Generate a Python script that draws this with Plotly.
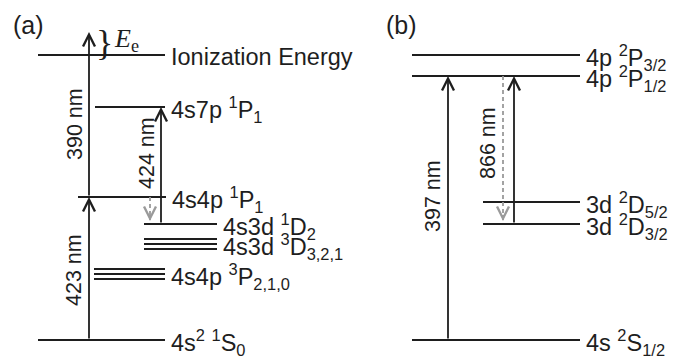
import plotly.graph_objects as go

# ---------------- data ----------------
# Panel (a): neutral Ca, schematic energies (arbitrary units above ground state)
ca_labels = ["4s<sup>2</sup> <sup>1</sup>S<sub>0</sub>",
             "4s4p <sup>3</sup>P<sub>2,1,0</sub>",
             "4s3d <sup>3</sup>D<sub>3,2,1</sub>",
             "4s3d <sup>1</sup>D<sub>2</sub>",
             "4s4p <sup>1</sup>P<sub>1</sub>",
             "4s7p <sup>1</sup>P<sub>1</sub>",
             "Ionization Energy"]
ca_energy = [0, 66, 96, 116, 143, 233, 285]
ca_split = [0, 5, 5, 0, 0, 0, 0]          # fine-structure spacing of triplets
ca_continuum = 308                        # top of E_e arrow
ca_wavelengths = ["423 nm", "390 nm", "424 nm"]
ca_exc_from = [0, 4, 3]                   # level indices
ca_exc_to = [4, "cont", 5]
ca_decay_from = [4]
ca_decay_to = [3]

# Panel (b): Ca+ ion
ion_labels = ["4s <sup>2</sup>S<sub>1/2</sub>",
              "3d <sup>2</sup>D<sub>3/2</sub>",
              "3d <sup>2</sup>D<sub>5/2</sub>",
              "4p <sup>2</sup>P<sub>1/2</sub>",
              "4p <sup>2</sup>P<sub>3/2</sub>"]
ion_energy = [0, 116, 138, 264, 285]
ion_wavelengths = ["397 nm", "866 nm"]
ion_exc_from = [0, 1]
ion_exc_to = [3, 3]
ion_decay_from = [3]
ion_decay_to = [1]

# ---------------- layout (horizontal placement) ----------------
ca_x = [(38, 165), (94, 165), (144, 217), (144, 217), (78, 166), (95, 165), (38, 165)]
ion_x = [(412, 580), (483, 580), (483, 580), (412, 580), (412, 580)]
ca_exc_x = [89, 89, 161]
ca_decay_x = [150]
ca_wl_pos = [(74, 70), (75, 216), (147, 187)]
ion_exc_x = [448, 514]
ion_decay_x = [503]
ion_wl_pos = [(433, 144), (488, 197)]

BLACK = "#1e1e1e"
GRAY = "#9a9a9a"
FONT = "Liberation Sans, Arial, sans-serif"
LSIZE = 23.5

fig = go.Figure()


def add_levels(energies, splits, xs, labels):
    xx, yy = [], []
    for e, s, (x0, x1) in zip(energies, splits, xs):
        subs = [e + s, e, e - s] if s else [e]
        for ev in subs:
            xx += [x0, x1, None]
            yy += [ev, ev, None]
    fig.add_trace(go.Scatter(x=xx, y=yy, mode="lines",
                             line=dict(color=BLACK, width=2),
                             hoverinfo="skip", showlegend=False))
    for e, (x0, x1), lab in zip(energies, xs, labels):
        fig.add_annotation(x=x1 + 4, y=e, text=lab, showarrow=False,
                           xanchor="left", yanchor="middle", yshift=-2,
                           font=dict(family=FONT, size=LSIZE, color=BLACK))


def arrow(x, e0, e1, color):
    fig.add_annotation(x=x, y=e1, ax=x, ay=e0, xref="x", yref="y",
                       axref="x", ayref="y", text="", showarrow=True,
                       arrowhead=5, arrowsize=1.3, arrowwidth=1.8,
                       arrowcolor=color, standoff=0)


def dashed_arrow(x, e0, e1):
    fig.add_trace(go.Scatter(x=[x, x], y=[e0, e1 + 4], mode="lines",
                             line=dict(color=GRAY, width=1.8, dash="4px,3px"),
                             hoverinfo="skip", showlegend=False))
    fig.add_annotation(x=x, y=e1 + 3, ax=x, ay=e1 + 10, xref="x", yref="y",
                       axref="x", ayref="y", text="", showarrow=True,
                       arrowhead=5, arrowsize=1.3, arrowwidth=1.8,
                       arrowcolor=GRAY, standoff=0)


def wl_label(pos, text):
    fig.add_annotation(x=pos[0], y=pos[1], text=text, showarrow=False,
                       textangle=-90, xanchor="center", yanchor="middle",
                       font=dict(family=FONT, size=21.5, color=BLACK))


# panel (a)
add_levels(ca_energy, ca_split, ca_x, ca_labels)
for xv, i0, i1 in zip(ca_exc_x, ca_exc_from, ca_exc_to):
    top = ca_continuum if i1 == "cont" else ca_energy[i1]
    arrow(xv, ca_energy[i0], top, BLACK)
for xv, i0, i1 in zip(ca_decay_x, ca_decay_from, ca_decay_to):
    dashed_arrow(xv, ca_energy[i0], ca_energy[i1])
for pos, t in zip(ca_wl_pos, ca_wavelengths):
    wl_label(pos, t)

# E_e brace
fig.add_annotation(x=104, y=(ca_energy[6] + ca_continuum) / 2 + 1, text="}",
                   showarrow=False, xanchor="center", yanchor="middle",
                   font=dict(family="Liberation Serif, serif", size=36, color=BLACK))
fig.add_annotation(x=112, y=(ca_energy[6] + ca_continuum) / 2 + 4,
                   text="<i>E</i><sub>e</sub>", showarrow=False,
                   xanchor="left", yanchor="middle",
                   font=dict(family="Liberation Serif, serif", size=26, color=BLACK))

# panel (b)
add_levels(ion_energy, [0] * len(ion_energy), ion_x, ion_labels)
for xv, i0, i1 in zip(ion_exc_x, ion_exc_from, ion_exc_to):
    arrow(xv, ion_energy[i0], ion_energy[i1], BLACK)
for xv, i0, i1 in zip(ion_decay_x, ion_decay_from, ion_decay_to):
    dashed_arrow(xv, ion_energy[i0], ion_energy[i1])
for pos, t in zip(ion_wl_pos, ion_wavelengths):
    wl_label(pos, t)

# panel tags
for xv, t in [(11, "(a)"), (384, "(b)")]:
    fig.add_annotation(x=xv, y=315, text=t, showarrow=False,
                       xanchor="left", yanchor="middle",
                       font=dict(family=FONT, size=25, color=BLACK))

fig.update_layout(width=684, height=358, margin=dict(l=0, r=0, t=0, b=0),
                  paper_bgcolor="white", plot_bgcolor="white",
                  xaxis=dict(range=[0, 684], visible=False, fixedrange=True),
                  yaxis=dict(range=[-18, 340], visible=False, fixedrange=True))

fig.write_html("out.html")
